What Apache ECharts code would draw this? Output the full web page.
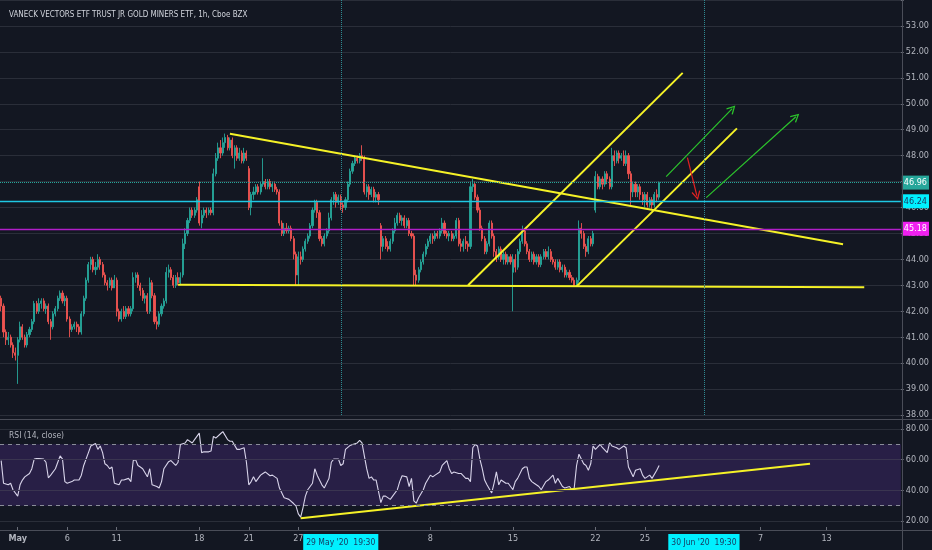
<!DOCTYPE html>
<html>
<head>
  <meta charset="utf-8">
</head>
<body style="margin: 0; background: #131722">
  <div id="container" style="width: 932px; height: 550px"></div>
  <script src="https://cdn.jsdelivr.net/npm/echarts@6/dist/echarts.min.js"></script>
  <script>
    // trading days shown on the axis (data ends Jun 25, the rest is empty future space)
    var days = ['Apr 30', 'May 1', 'May 4', 'May 5', 'May 6', 'May 7', 'May 8', 'May 11', 'May 12', 'May 13',
      'May 14', 'May 15', 'May 18', 'May 19', 'May 20', 'May 21', 'May 22', 'May 26', 'May 27', 'May 28',
      'May 29', 'Jun 1', 'Jun 2', 'Jun 3', 'Jun 4', 'Jun 5', 'Jun 8', 'Jun 9', 'Jun 10', 'Jun 11',
      'Jun 12', 'Jun 15', 'Jun 16', 'Jun 17', 'Jun 18', 'Jun 19', 'Jun 22', 'Jun 23', 'Jun 24', 'Jun 25',
      'Jun 26', 'Jun 29', 'Jun 30', 'Jul 1', 'Jul 2', 'Jul 6', 'Jul 7', 'Jul 8', 'Jul 9', 'Jul 10',
      'Jul 13', 'Jul 14', 'Jul 15', 'Jul 16', 'Jul 17'];
    var hours = ['09:30', '10:30', '11:30', '12:30', '13:30', '14:30', '15:30'];
    var barCount = 382;

    // bottom axis labels: bar index -> text
    var tickIdx = [7, 28, 49, 84, 105, 126, 182, 217, 252, 273, 322, 350];
    var tickText = ['May', '6', '11', '18', '21', '27', '8', '15', '22', '25', '7', '13'];
    var cursorIdx = [144, 298];
    var cursorText = ["29 May '20  19:30", "30 Jun '20  19:30"];

    // hourly candles [open, close, low, high]
    var ohlc = [
      [42.5, 42.2, 42.0, 42.6], [42.2, 41.2, 41.0, 42.3], [41.2, 40.9, 40.7, 41.3], [40.9, 41.0, 40.7, 41.2], [41.0, 40.7, 40.6, 41.1], [40.7, 40.4, 40.2, 40.8], [40.4, 40.3, 40.1, 40.6],
      [40.3, 40.9, 39.2, 41.0], [40.9, 41.4, 40.8, 41.6], [41.4, 41.0, 40.9, 41.5], [41.0, 40.7, 40.6, 41.1], [40.7, 41.1, 40.6, 41.2], [41.1, 41.3, 41.0, 41.4], [41.3, 41.6, 41.2, 41.7],
      [41.6, 42.3, 41.5, 42.4], [42.3, 42.0, 41.9, 42.4], [42.0, 42.3, 41.9, 42.5], [42.3, 42.4, 42.1, 42.5], [42.4, 42.1, 42.0, 42.5], [42.1, 42.2, 41.9, 42.3], [42.2, 41.6, 41.5, 42.3],
      [41.6, 41.4, 40.9, 41.7], [41.4, 41.9, 41.3, 42.0], [41.9, 42.1, 41.8, 42.2], [42.1, 42.5, 42.0, 42.6], [42.5, 42.7, 42.4, 42.8], [42.7, 42.4, 42.3, 42.8], [42.4, 42.5, 42.2, 42.6],
      [42.5, 41.7, 41.6, 42.6], [41.7, 41.3, 41.0, 41.8], [41.3, 41.4, 41.2, 41.5], [41.4, 41.5, 41.3, 41.6], [41.5, 41.4, 41.2, 41.6], [41.4, 41.2, 41.1, 41.5], [41.2, 41.9, 41.1, 42.0],
      [41.9, 42.5, 41.8, 42.6], [42.5, 43.2, 42.4, 43.3], [43.2, 43.8, 43.1, 43.9], [43.8, 44.0, 43.6, 44.1], [44.0, 43.6, 43.5, 44.1], [43.6, 43.7, 43.4, 43.9], [43.7, 44.0, 43.6, 44.2],
      [44.0, 43.8, 43.6, 44.1], [43.8, 43.4, 43.3, 43.9], [43.4, 43.1, 43.0, 43.5], [43.1, 43.0, 42.8, 43.2], [43.0, 43.2, 42.9, 43.3], [43.2, 42.9, 42.8, 43.3], [42.9, 43.2, 42.9, 43.4],
      [43.2, 42.0, 41.8, 43.3], [42.0, 41.7, 41.6, 42.1], [41.7, 42.0, 41.6, 42.1], [42.0, 41.8, 41.7, 42.2], [41.8, 42.1, 41.7, 42.2], [42.1, 41.9, 41.8, 42.2], [41.9, 42.1, 41.8, 42.2],
      [42.1, 43.3, 42.0, 43.5], [43.3, 43.4, 43.1, 43.5], [43.4, 43.0, 42.9, 43.5], [43.0, 42.8, 42.6, 43.1], [42.8, 42.5, 42.4, 42.9], [42.5, 42.6, 42.3, 42.7], [42.6, 42.0, 41.9, 42.7],
      [42.0, 43.1, 41.9, 43.3], [43.1, 42.6, 42.5, 43.2], [42.6, 41.6, 41.5, 42.7], [41.6, 41.5, 41.3, 41.8], [41.5, 41.9, 41.4, 42.0], [41.9, 42.2, 41.8, 42.3], [42.2, 42.4, 42.1, 42.5],
      [42.4, 43.5, 42.3, 43.7], [43.5, 43.6, 43.3, 43.8], [43.6, 43.3, 43.2, 43.7], [43.3, 43.0, 42.9, 43.4], [43.0, 43.3, 42.9, 43.4], [43.3, 43.1, 43.0, 43.5], [43.1, 43.3, 43.0, 43.5],
      [43.4, 44.6, 43.3, 44.8], [44.6, 45.0, 44.4, 45.2], [45.0, 45.5, 44.9, 45.6], [45.5, 45.9, 45.4, 46.0], [45.9, 45.7, 45.6, 46.0], [45.7, 45.9, 45.6, 46.0], [45.9, 46.3, 45.8, 46.4],
      [46.8, 45.4, 45.3, 47.0], [45.4, 45.7, 45.2, 45.9], [45.7, 45.9, 45.6, 46.0], [45.9, 45.8, 45.6, 46.0], [45.8, 45.9, 45.7, 46.0], [45.9, 45.8, 45.7, 46.0], [45.8, 47.3, 45.7, 47.5],
      [47.3, 47.9, 47.2, 48.1], [47.9, 48.3, 47.8, 48.5], [48.3, 48.1, 47.9, 48.6], [48.1, 48.5, 48.0, 48.7], [48.5, 48.7, 48.3, 48.85], [48.7, 48.3, 48.2, 48.8], [48.3, 48.6, 48.2, 48.7],
      [48.6, 48.0, 47.9, 48.7], [48.0, 48.3, 47.5, 48.4], [48.3, 47.9, 47.8, 48.4], [47.9, 48.1, 47.8, 48.3], [48.1, 47.8, 47.7, 48.2], [47.8, 48.1, 47.7, 48.3], [48.1, 47.9, 47.8, 48.2],
      [47.5, 46.0, 45.9, 47.6], [46.0, 46.5, 45.7, 46.6], [46.5, 46.6, 46.3, 46.8], [46.6, 46.8, 46.5, 46.9], [46.8, 46.6, 46.5, 46.9], [46.6, 46.9, 46.5, 47.0], [46.9, 47.0, 46.8, 47.9],
      [47.0, 46.8, 46.7, 47.1], [46.8, 47.0, 46.7, 47.1], [47.0, 46.8, 46.7, 47.1], [46.8, 46.9, 46.6, 47.0], [46.9, 46.7, 46.6, 47.0], [46.7, 46.6, 46.5, 46.8], [46.6, 45.4, 45.3, 46.7],
      [45.4, 45.0, 44.9, 45.5], [45.0, 45.2, 44.9, 45.4], [45.2, 45.1, 45.0, 45.4], [45.1, 45.2, 45.0, 45.3], [45.2, 44.8, 44.7, 45.3], [44.8, 44.2, 44.0, 44.9], [44.2, 43.4, 43.0, 44.3],
      [43.4, 44.1, 43.0, 44.3], [44.1, 44.0, 43.8, 44.3], [44.0, 44.4, 43.9, 44.5], [44.4, 44.7, 44.3, 44.8], [44.7, 44.9, 44.6, 45.0], [44.9, 45.3, 44.8, 45.4], [45.3, 45.9, 45.2, 46.0],
      [45.9, 46.2, 45.8, 46.3], [46.2, 45.8, 45.6, 46.3], [45.8, 44.8, 44.7, 45.9], [44.8, 44.6, 44.5, 44.9], [44.6, 44.9, 44.5, 45.0], [44.9, 45.1, 44.8, 45.2], [45.1, 45.6, 45.0, 45.8],
      [45.6, 46.3, 45.5, 46.4], [46.3, 46.5, 46.1, 46.6], [46.5, 46.2, 46.0, 46.6], [46.2, 46.4, 46.1, 46.5], [46.4, 46.1, 45.9, 46.5], [46.1, 46.0, 45.8, 46.2], [46.0, 46.3, 45.9, 46.4],
      [46.3, 46.9, 46.2, 47.0], [46.9, 47.4, 46.8, 47.5], [47.4, 47.7, 47.3, 47.8], [47.7, 47.9, 47.6, 48.0], [47.9, 47.8, 47.7, 48.0], [47.8, 48.0, 47.7, 48.1], [48.0, 47.9, 47.8, 48.4],
      [47.9, 46.6, 46.5, 48.0], [46.6, 46.8, 46.4, 46.9], [46.8, 46.5, 46.3, 46.9], [46.5, 46.7, 46.4, 46.8], [46.7, 46.4, 46.2, 46.8], [46.4, 46.5, 46.2, 46.6], [46.5, 46.3, 46.1, 46.6],
      [45.3, 44.5, 44.0, 45.4], [44.5, 44.8, 44.3, 44.9], [44.8, 44.5, 44.4, 44.9], [44.5, 44.4, 44.3, 44.7], [44.4, 44.7, 44.3, 44.8], [44.7, 45.1, 44.6, 45.2], [45.1, 45.4, 45.0, 45.6],
      [45.4, 45.7, 45.3, 45.8], [45.7, 45.5, 45.4, 45.8], [45.5, 45.6, 45.3, 45.7], [45.6, 45.3, 45.2, 45.7], [45.3, 45.5, 45.2, 45.6], [45.5, 45.0, 44.9, 45.6], [45.0, 44.9, 44.8, 45.1],
      [44.9, 43.4, 43.0, 45.0], [43.4, 43.2, 43.0, 43.6], [43.2, 43.6, 43.1, 43.7], [43.6, 43.9, 43.5, 44.0], [43.9, 44.2, 43.8, 44.3], [44.2, 44.5, 44.1, 44.6], [44.5, 44.7, 44.4, 44.8],
      [44.7, 44.9, 44.6, 45.0], [44.9, 44.8, 44.6, 45.0], [44.8, 45.0, 44.7, 45.1], [45.0, 44.9, 44.8, 45.1], [44.9, 45.1, 44.8, 45.2], [45.1, 45.4, 45.0, 45.6], [45.4, 45.0, 44.9, 45.5],
      [45.0, 44.9, 44.8, 45.1], [44.9, 45.0, 44.7, 45.1], [45.0, 44.8, 44.7, 45.1], [44.8, 44.9, 44.7, 45.0], [44.9, 45.5, 44.8, 45.6], [45.5, 44.6, 44.5, 45.6], [44.6, 44.5, 44.3, 44.8],
      [44.5, 44.7, 44.3, 44.8], [44.7, 44.6, 44.4, 44.9], [44.6, 44.5, 44.3, 44.7], [44.5, 46.8, 44.4, 47.0], [46.8, 46.9, 46.6, 47.1], [46.9, 46.4, 46.3, 47.0], [46.4, 45.9, 45.8, 46.5],
      [45.9, 45.2, 45.1, 46.0], [45.2, 44.8, 44.7, 45.3], [44.8, 44.3, 44.2, 44.9], [44.3, 44.6, 44.2, 44.7], [44.6, 45.4, 44.5, 45.5], [45.4, 44.9, 44.8, 45.5], [44.9, 44.3, 44.1, 45.0],
      [44.3, 44.1, 43.9, 44.4], [44.1, 44.4, 44.0, 44.5], [44.4, 44.0, 43.9, 44.5], [44.0, 44.2, 43.8, 44.3], [44.2, 43.9, 43.8, 44.3], [43.9, 44.1, 43.8, 44.2], [44.1, 43.9, 43.8, 44.2],
      [43.5, 44.0, 42.0, 44.2], [44.0, 43.7, 43.5, 44.2], [43.7, 44.3, 43.6, 44.4], [44.3, 44.7, 44.2, 44.8], [44.7, 45.1, 44.6, 45.3], [45.1, 44.6, 44.5, 45.2], [44.6, 44.3, 44.2, 44.7],
      [44.3, 44.0, 43.9, 44.4], [44.0, 44.2, 43.9, 44.3], [44.2, 43.9, 43.8, 44.3], [43.9, 44.1, 43.8, 44.2], [44.1, 43.8, 43.7, 44.2], [43.8, 44.1, 43.7, 44.2], [44.1, 44.3, 44.0, 44.4],
      [44.3, 44.1, 44.0, 44.4], [44.1, 44.3, 44.0, 44.5], [44.3, 44.0, 43.9, 44.4], [44.0, 43.9, 43.8, 44.1], [43.9, 43.7, 43.6, 44.0], [43.7, 43.9, 43.6, 44.0], [43.9, 43.6, 43.5, 44.0],
      [43.6, 43.7, 43.5, 43.8], [43.7, 43.4, 43.3, 43.8], [43.4, 43.5, 43.3, 43.6], [43.5, 43.3, 43.2, 43.6], [43.3, 43.2, 43.1, 43.4], [43.2, 43.0, 42.95, 43.3], [43.0, 43.2, 42.95, 43.3],
      [43.2, 45.2, 43.1, 45.5], [45.2, 45.0, 44.8, 45.4], [45.0, 44.5, 44.4, 45.1], [44.5, 44.3, 44.1, 44.6], [44.3, 44.8, 44.2, 44.9], [44.8, 44.6, 44.5, 44.9], [44.6, 45.0, 44.5, 45.1],
      [45.9, 47.2, 45.8, 47.4], [47.2, 46.8, 46.7, 47.3], [46.8, 47.1, 46.7, 47.2], [47.1, 46.9, 46.7, 47.2], [46.9, 47.3, 46.8, 47.4], [47.3, 47.1, 46.9, 47.4], [47.1, 46.8, 46.7, 47.2],
      [46.8, 48.0, 46.7, 48.3], [48.0, 47.8, 47.6, 48.2], [47.8, 48.1, 47.7, 48.2], [48.1, 47.9, 47.7, 48.2], [47.9, 48.0, 47.8, 48.1], [48.0, 47.7, 47.6, 48.2], [47.7, 48.0, 47.6, 48.2],
      [48.0, 47.3, 47.1, 48.1], [47.3, 46.6, 46.1, 47.4], [46.6, 46.9, 46.4, 47.0], [46.9, 46.6, 46.4, 47.0], [46.6, 46.8, 46.4, 46.9], [46.8, 46.5, 46.3, 46.9], [46.5, 46.3, 46.1, 46.6],
      [46.3, 46.5, 46.0, 46.6], [46.5, 46.1, 46.0, 46.6], [46.1, 46.3, 46.0, 46.4], [46.3, 46.1, 45.95, 46.4], [46.1, 46.5, 46.0, 46.6], [46.5, 46.4, 46.2, 46.7], [46.4, 46.96, 46.3, 47.0]
    ];

    // RSI(14): [bar index, value]
    var rsi = [
      [0, 59.4], [1, 44.6], [3, 43.6], [4, 44.6], [5, 40.4], [7, 36.2], [8, 43.6], [9, 46.7], [10, 48.8], [12, 51.0],
      [13, 54.1], [14, 60.4], [15, 60.8], [16, 60.8], [18, 60.4], [19, 58.3], [20, 48.2], [21, 49.9], [23, 54.1], [24, 58.3],
      [25, 62.5], [26, 60.4], [27, 45.7], [28, 44.6], [30, 45.7], [31, 46.7], [33, 46.7], [34, 49.9], [35, 56.2], [37, 64.6],
      [38, 68.9], [40, 70.5], [41, 66.7], [42, 68.9], [43, 64.6], [44, 57.3], [45, 56.2], [46, 54.1], [47, 55.2], [48, 44.6],
      [50, 43.6], [51, 46.7], [52, 46.7], [54, 47.8], [55, 45.7], [56, 59.4], [57, 60.0], [58, 56.2], [59, 55.2], [60, 54.1],
      [62, 48.8], [63, 54.1], [64, 43.6], [66, 42.5], [67, 41.5], [68, 45.7], [69, 54.1], [71, 58.7], [72, 59.4], [74, 56.2],
      [75, 58.3], [76, 69.9], [78, 70.9], [79, 73.1], [81, 70.9], [82, 73.1], [84, 77.3], [85, 64.6], [86, 65.1], [88, 65.1],
      [89, 65.7], [90, 75.2], [91, 74.1], [93, 76.9], [94, 78.3], [96, 73.1], [97, 72.0], [98, 72.0], [100, 66.7], [101, 66.7],
      [103, 67.8], [104, 58.3], [105, 43.6], [106, 45.7], [107, 48.8], [108, 45.7], [110, 49.9], [111, 51.0], [112, 52.0], [114, 49.5],
      [115, 49.9], [117, 47.8], [118, 41.5], [120, 35.2], [121, 34.7], [122, 34.1], [124, 31.4], [125, 29.9], [126, 24.6], [127, 22.5],
      [128, 28.8], [129, 36.2], [130, 40.4], [132, 44.6], [133, 54.1], [134, 49.9], [136, 43.6], [137, 41.5], [139, 47.8], [140, 58.3],
      [141, 60.4], [143, 60.4], [144, 56.2], [145, 57.3], [146, 66.7], [148, 69.3], [149, 69.9], [151, 70.9], [152, 72.6], [153, 70.9],
      [154, 62.5], [155, 54.1], [156, 47.8], [157, 48.8], [158, 46.7], [159, 46.7], [161, 32.0], [162, 36.2], [163, 36.2], [165, 34.1],
      [166, 36.2], [168, 40.4], [169, 45.7], [170, 49.5], [172, 48.8], [173, 42.5], [174, 47.8], [175, 33.1], [176, 31.6], [177, 35.2],
      [179, 40.4], [180, 44.6], [182, 49.9], [183, 48.8], [184, 49.9], [186, 52.0], [187, 56.2], [189, 59.4], [190, 54.1], [191, 51.0],
      [192, 52.0], [194, 51.0], [195, 51.0], [197, 47.8], [198, 47.8], [199, 45.7], [200, 67.8], [201, 69.9], [202, 68.9], [203, 60.4],
      [204, 54.1], [205, 46.7], [206, 43.6], [208, 38.3], [209, 44.6], [210, 52.0], [211, 43.6], [212, 46.7], [214, 44.6], [215, 44.6],
      [217, 40.4], [218, 45.7], [219, 47.8], [221, 54.1], [222, 55.2], [223, 55.2], [224, 47.8], [225, 45.7], [226, 44.6], [228, 42.5],
      [229, 40.4], [231, 45.7], [232, 46.7], [234, 49.9], [235, 44.6], [236, 47.8], [238, 42.5], [239, 41.5], [241, 42.5], [242, 40.4],
      [243, 41.5], [244, 56.2], [245, 63.6], [247, 57.3], [248, 56.2], [249, 53.1], [250, 57.3], [251, 68.9], [252, 66.7], [254, 69.9],
      [255, 67.8], [257, 64.6], [258, 70.9], [259, 68.9], [261, 67.8], [262, 66.7], [264, 68.9], [265, 67.8], [266, 55.2], [268, 48.8],
      [269, 53.1], [271, 54.1], [272, 49.9], [273, 47.8], [275, 49.9], [276, 47.8], [278, 53.1], [279, 56.2]
    ];

    // drawings on the price pane, in [bar index, price]
    var trendLines = [
      [[97, 48.84], [357, 44.58]],
      [[75, 43.02], [366, 42.93]],
      [[198, 43.0], [289, 51.19]],
      [[244, 42.96], [312, 49.05]]
    ];
    var greenArrows = [
      [[282, 47.19], [310, 49.81]],
      [[299, 46.38], [337, 49.5]]
    ];
    var redArrow = [[291, 47.92], [295, 46.46]];
    var rsiTrend = [[127, 21.8], [343, 57.3]];

    // horizontal levels with price tags
    var levels = [46.96, 46.24, 45.18];
    var levelLine = ['#26a69a', '#1fc8e3', '#b01ec8'];
    var levelTag = ['#26a69a', '#00f0ff', '#f020f0'];
    var levelText = ['#ffffff', '#17375e', '#ffffff'];
    var levelType = ['dotted', 'solid', 'solid'];

    var FONT = "'Liberation Sans Narrow', 'DejaVu Sans Condensed', 'Liberation Sans', sans-serif";
    var GRID = '#2a2e39';
    var TEXT = '#b2b5be';
    var YELLOW = '#f5f227';
    var CHEVRON = 'path://M5,0 L10,8.5 L8.8,9.3 L5,2.6 L1.2,9.3 L0,8.5 Z';

    var cats = [];
    days.forEach(function (d) {
      hours.forEach(function (h) { cats.push(d + ' ' + h); });
    });
    cats = cats.slice(0, barCount);

    var labelOf = {};
    tickIdx.forEach(function (i, k) { labelOf[i] = { text: tickText[k], hl: false }; });
    cursorIdx.forEach(function (i, k) { labelOf[i] = { text: cursorText[k], hl: true }; });

    var levelMarks = levels.map(function (v, k) {
      return {
        yAxis: v,
        lineStyle: { color: levelLine[k], type: levelType[k], width: k === 0 ? 1 : 1.4 },
        label: {
          show: true, position: 'end', distance: 1, formatter: v.toFixed(2),
          backgroundColor: levelTag[k], color: levelText[k], padding: [3, 2, 2, 2],
          fontSize: 9, fontFamily: FONT
        }
      };
    });
    var cursorMarks = cursorIdx.map(function (i) {
      return { xAxis: i, lineStyle: { color: '#2f8a92', type: 'dotted', width: 1 } };
    });
    function arrowMark(seg, color) {
      return [
        { coord: seg[0], symbol: 'none' },
        { coord: seg[1], symbol: CHEVRON, symbolSize: [9, 9], lineStyle: { color: color, width: 1.2, type: 'solid' } }
      ];
    }
    var arrowMarks = greenArrows.map(function (s) { return arrowMark(s, '#2cc52c'); });
    arrowMarks.push(arrowMark(redArrow, '#e32222'));

    var myChart = echarts.init(document.getElementById('container'));
    var series = [
      {
        type: 'candlestick',
        xAxisIndex: 0,
        yAxisIndex: 0,
        data: ohlc,
        barWidth: 1.6,
        itemStyle: {
          color: '#26a69a', color0: '#ef5350',
          borderColor: '#26a69a', borderColor0: '#ef5350', borderWidth: 0.9
        },
        markLine: {
          silent: true,
          symbol: ['none', 'none'],
          label: { show: false },
          data: levelMarks.concat(cursorMarks, arrowMarks)
        }
      },
      {
        type: 'line',
        xAxisIndex: 1,
        yAxisIndex: 1,
        data: rsi,
        symbol: 'none',
        lineStyle: { color: '#d8d4ea', width: 1.1 },
        markArea: {
          silent: true,
          itemStyle: { color: 'rgba(110, 58, 190, 0.24)' },
          data: [[{ yAxis: 30 }, { yAxis: 70 }]]
        },
        markLine: {
          silent: true,
          symbol: ['none', 'none'],
          label: { show: false },
          data: [
            { yAxis: 20, lineStyle: { color: GRID, type: 'solid', width: 1 } },
            { yAxis: 40, lineStyle: { color: '#3a3550', type: 'solid', width: 1 } },
            { yAxis: 60, lineStyle: { color: '#3a3550', type: 'solid', width: 1 } },
            { yAxis: 80, lineStyle: { color: GRID, type: 'solid', width: 1 } },
            { yAxis: 30, lineStyle: { color: '#8a8d99', type: [4, 4], width: 1 } },
            { yAxis: 70, lineStyle: { color: '#8a8d99', type: [4, 4], width: 1 } }
          ]
        }
      },
      {
        type: 'line',
        xAxisIndex: 1,
        yAxisIndex: 1,
        data: rsiTrend,
        symbol: 'none',
        lineStyle: { color: YELLOW, width: 2 },
        z: 4
      }
    ];
    trendLines.forEach(function (seg) {
      series.push({
        type: 'line',
        xAxisIndex: 0,
        yAxisIndex: 0,
        data: seg,
        symbol: 'none',
        lineStyle: { color: YELLOW, width: 2 },
        z: 4
      });
    });

    myChart.setOption({
      backgroundColor: '#131722',
      animation: false,
      textStyle: { fontFamily: FONT },
      title: [
        {
          text: 'VANECK VECTORS ETF TRUST JR GOLD MINERS ETF, 1h, Cboe BZX',
          left: 4, top: 6,
          textStyle: { color: '#d1d4dc', fontSize: 8, fontWeight: 'normal', fontFamily: FONT }
        },
        {
          text: 'RSI (14, close)',
          left: 4, top: 426,
          textStyle: { color: TEXT, fontSize: 8.5, fontWeight: 'normal', fontFamily: FONT }
        }
      ],
      grid: [
        { left: 0, right: 30, top: -1, height: 416 },
        { left: 0, right: 30, top: 429, height: 95 }
      ],
      xAxis: [
        {
          type: 'category', gridIndex: 0, data: cats, boundaryGap: true,
          axisLine: { show: false }, axisTick: { show: false }, axisLabel: { show: false },
          splitLine: { show: false }
        },
        {
          type: 'category', gridIndex: 1, data: cats, boundaryGap: true, offset: 6,
          axisLine: { show: false },
          axisTick: {
            show: true, length: 3, alignWithLabel: true,
            interval: function (i) { return labelOf[i] && !labelOf[i].hl; },
            lineStyle: { color: '#6a6d78' }
          },
          axisLabel: {
            interval: function (i) { return !!labelOf[i]; },
            margin: 7,
            color: TEXT, fontSize: 9, fontFamily: FONT,
            formatter: function (v, i) {
              var l = labelOf[i];
              if (!l) return '';
              if (l.hl) return '{hl|' + l.text + '}';
              if (l.text === 'May') return '{b|May}';
              return l.text;
            },
            rich: {
              hl: { backgroundColor: '#00f0ff', color: '#17375e', padding: [4, 3, 3, 3], fontSize: 8.5, fontFamily: FONT },
              b: { color: TEXT, fontWeight: 'bold', fontSize: 9, fontFamily: FONT }
            }
          },
          splitLine: { show: false }
        }
      ],
      yAxis: [
        {
          type: 'value', gridIndex: 0, position: 'right', min: 38, max: 54, interval: 1,
          axisLine: { show: false },
          axisTick: { show: true, length: 3, lineStyle: { color: '#6a6d78' } },
          axisLabel: {
            color: TEXT, fontSize: 9, fontFamily: FONT, margin: 5,
            formatter: function (v) { return v === 54 ? '' : v.toFixed(2); }
          },
          splitLine: { lineStyle: { color: GRID, width: 1 } }
        },
        {
          type: 'value', gridIndex: 1, position: 'right', min: 20, max: 80, interval: 20,
          axisLine: { show: false },
          axisTick: { show: true, length: 3, lineStyle: { color: '#6a6d78' } },
          axisLabel: {
            color: TEXT, fontSize: 9, fontFamily: FONT, margin: 5,
            formatter: function (v) { return v.toFixed(2); }
          },
          splitLine: { show: false }
        }
      ],
      graphic: [
        // pane frame: right scale border and the two pane separators
        { type: 'line', shape: { x1: 902.5, y1: 0, x2: 902.5, y2: 550 }, style: { stroke: '#4a4d58', lineWidth: 1 }, z: 10 },
        { type: 'line', shape: { x1: 0, y1: 419.5, x2: 932, y2: 419.5 }, style: { stroke: '#4a4d58', lineWidth: 1 }, z: 10 },
        { type: 'line', shape: { x1: 0, y1: 530.5, x2: 932, y2: 530.5 }, style: { stroke: '#4a4d58', lineWidth: 1 }, z: 10 }
      ],
      series: series
    });
  </script>
</body>
</html>
